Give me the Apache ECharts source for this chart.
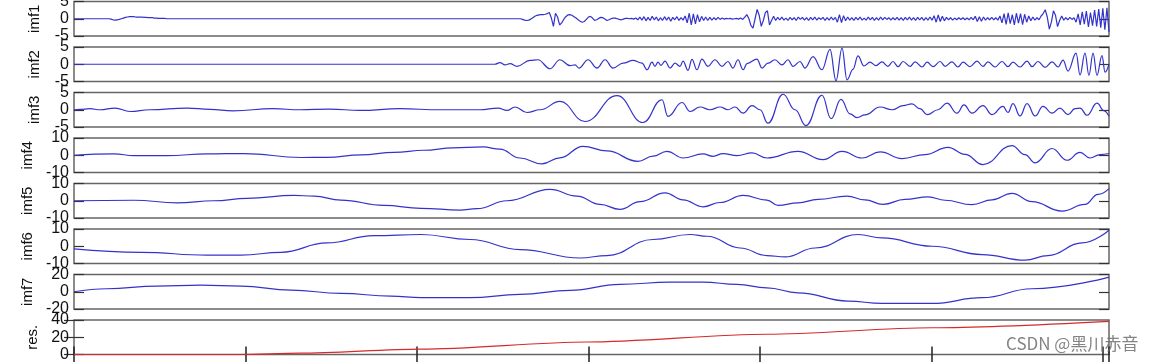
<!DOCTYPE html>
<html><head><meta charset="utf-8">
<script src="https://cdn.jsdelivr.net/npm/echarts@6/dist/echarts.min.js"></script>
<style>html,body{margin:0;padding:0;background:#fff}#c{width:1158px;height:362px}</style>
</head><body><div id="c"></div>
<script>
// ---------- data ----------
const X_MAX = 6036;
const X_TICK = 1000;
const panelNames = ['imf1','imf2','imf3','imf4','imf5','imf6','imf7','res.'];
const yMin  = [-5,-5,-5,-10,-10,-10,-20,0];
const yMax  = [5,5,5,10,10,10,20,40];
const yStep = [5,5,5,10,10,10,20,20];

// imf1 sampled every imf1Step samples
const imf1Step = 12;
const imf1 = [
0,0,0,0,0,0,0,0,0,0,0,0,0,0,0,0,0,
0,-0.1,-0.3,-0.4,-0.3,-0.2,0,0.2,0.4,0.5,0.6,0.6,0.6,0.5,0.5,0.5,0.5,0.4,0.4,0.3,0.3,0.3,0.2,0.2,0.1,0.1,0.1,0.1,0,0,0,0,
0,0,0,0,0,0,0,0,0,0,0,0,0,0,0,0,0,0,0,0,0,
0,0,0,0,0,0,0,0,0,0,0,0,0,0,0,0,0,0,0,0,0,
0,0,0,0,0,0,0,0,0,0,0,0,0,0,0,0,0,0,0,0,0,
0,0,0,0,0,0,0,0,0,0,0,0,0,0,0,0,0,0,0,0,0,
0,0,0,0,0,0,0,0,0,0,0,0,0,0,0,0,0,0,0,0,0,
0,0,0,0,0,0,0,0,0,0,0,0,0,0,0,0,0,0,0,0,0,
0,0,0,0,0,0,0,0,0,0,0,0,0,0,0,0,0,0,0,0,0,
0,0,0,0,0,0,0,0,0,0,0,0,0,0,0,0,0,0,0,0,0,
0,-0.2,-0.4,-0.5,-0.4,-0.1,0.3,0.7,1.0,1.1,
1.2,1.2,1.3,1.5,1.8,0.2,-2.2,1.6,0.5,-1.8,
-1.2,-0.2,0.6,1.1,1.2,1.0,0.6,0.2,-0.3,-0.7,
-1.0,-0.8,-0.2,0.5,0.7,0.2,-0.5,-0.3,0.1,0.4,
0.3,-0.1,-0.5,-0.3,0.0,0.2,0.2,0.0,-0.2,-0.3,
-0.1,0.1,0.1,0.0,0.1,-0.1,0.2,-0.3,
0.5,-0.4,0.6,-0.6,0.4,-0.5,0.7,-0.3,0.5,-0.6,0.3,-0.5,0.6,-0.4,0.5,-0.7,0.4,-0.3,0.6,-0.5,0.3,-0.4,
0.8,-1.2,1.6,-1.8,1.4,-1.5,1.2,-0.9,0.7,-0.5,
0.5,-0.5,0.4,-0.4,0.3,-0.3,0.4,-0.2,0.2,-0.1,0.1,0.0,0.1,-0.1,0.0,0.1,-0.1,0.2,-0.2,
0.5,1.2,0.0,-2.0,-2.7,0.0,2.7,1.0,-2.2,-0.5,1.8,2.3,-1.8,-0.5,0.7,
-0.5,0.4,-0.3,0.5,-0.4,0.2,-0.5,0.4,-0.3,0.3,-0.5,0.5,-0.2,0.4,-0.4,0.3,-0.5,0.4,-0.3,0.5,-0.4,0.3,-0.2,0.4,-0.5,0.3,-0.4,0.5,-0.3,0.4,
-1.0,1.2,-1.1,0.9,-0.6,0.5,
-0.4,0.3,-0.5,0.4,-0.3,0.5,-0.4,0.2,-0.4,0.5,-0.3,0.4,-0.5,0.3,-0.4,0.5,-0.3,0.4,-0.2,0.3,-0.4,0.3,-0.3,0.4,
-0.4,0.3,-0.5,0.4,-0.3,0.5,-0.4,0.3,-0.5,0.4,-0.3,0.4,-0.5,0.3,-0.4,0.5,-0.4,
0.9,-1.0,1.1,-0.8,0.7,-0.6,
0.4,-0.3,0.3,-0.4,0.2,-0.3,0.3,-0.2,0.3,-0.3,0.2,-0.3,0.4,-0.3,
0.7,-0.8,0.6,-0.7,0.5,-0.4,
0.3,-0.3,0.4,-0.3,0.3,-0.4,
0.8,-1.2,1.5,-1.6,1.7,-1.4,1.2,-1.8,1.6,-1.3,1.5,-1.7,1.3,-1.0,0.8,-0.6,0.5,-0.4,0.3,
-0.3,0.8,1.5,2.6,0.5,-3.0,-1.0,2.3,1.0,-2.3,-0.5,0.8,-0.4,
0.3,-0.3,0.4,-0.2,0.3,
-1.0,1.4,-1.8,2.0,-1.6,2.2,-2.4,1.8,-2.0,2.5,-2.2,2.8,-2.6,3.0,-3.2,3.2,-3.8
];

// [sample, value]
const imf2 = [[0,0],[2368,0],[2455,0],[2484,0.5],[2514,-0.2],[2543,0.2],[2584,-0.6],[2659,1.1],[2706,1.3],[2776,-1.3],[2834,1.3],[2893,-0.4],[2922,-0.2],[2945,-1.1],[2998,1.3],[3050,-1.1],[3097,1.3],[3143,-1.1],[3202,0.3],[3260,1.1],[3313,0.3],[3342,-1.6],[3371,0.6],[3388,-0.6],[3406,0.6],[3423,-0.3],[3447,0.9],[3476,-1.1],[3505,0.3],[3534,-0.6],[3552,0.9],[3581,-1.8],[3604,1.4],[3633,-1.6],[3662,1.5],[3697,-0.6],[3738,1.3],[3779,-0.6],[3814,0.8],[3843,-1.1],[3872,1.3],[3902,-1.6],[3925,0.2],[3983,1.5],[4012,-1.1],[4047,0.3],[4088,1.3],[4129,-0.2],[4164,1.3],[4193,-0.6],[4234,0.8],[4263,-1.1],[4310,2.2],[4362,-1.6],[4409,4.3],[4444,-4.8],[4479,4.7],[4508,-4.5],[4543,-1.5],[4572,2.4],[4607,-0.5],[4642,0.6],[4677,-0.4],[4712,0.7],[4747,-0.6],[4776,0.8],[4806,-0.7],[4835,0.8],[4876,-0.6],[4905,0.7],[4946,-0.8],[4975,0.6],[5010,-0.7],[5051,0.8],[5080,-0.6],[5120,0.7],[5155,-0.8],[5185,0.6],[5225,-0.7],[5266,0.9],[5301,-0.6],[5330,0.7],[5371,-0.8],[5412,0.8],[5447,-0.7],[5476,0.6],[5517,-0.8],[5558,0.9],[5587,-0.7],[5622,0.8],[5663,-0.9],[5704,0.7],[5739,-0.8],[5768,1.2],[5797,-2.0],[5844,3.2],[5867,-3.1],[5896,3.2],[5919,-3.2],[5943,3.2],[5966,-3.2],[5995,2.5],[6013,-2.3],[6036,0]];

const imf3 = [[0,0],[35,0.1],[93,0.3],[152,0],[239,0.5],[327,-0.5],[443,0],[659,0.5],[793,0.1],[927,-0.3],[1161,0.3],[1318,0],[1493,0.2],[1668,-0.2],[1901,0.3],[2135,0],[2368,0],[2473,0.5],[2525,-0.2],[2572,0.8],[2642,-0.8],[2718,0],[2834,2.4],[2980,-3.4],[3167,4.1],[3318,-3.7],[3429,2.9],[3464,-1.9],[3546,2.1],[3593,-0.5],[3651,0.8],[3709,0],[3768,0.8],[3814,0],[3855,0.8],[3902,-1.0],[3954,1.2],[4001,0],[4047,-3.9],[4135,4.5],[4205,0],[4269,-4.6],[4362,4.2],[4415,-2.6],[4473,3.0],[4526,-1.2],[4566,-2.3],[4613,-1.5],[4701,0.8],[4771,0],[4835,1.2],[4887,1.7],[4934,0.3],[4975,-1.4],[5039,0],[5091,1.9],[5150,-1.0],[5190,1.4],[5237,-1.0],[5301,1.2],[5354,-1.4],[5418,1.0],[5447,-0.8],[5476,1.8],[5517,-1.8],[5558,1.8],[5605,-1.8],[5651,1.0],[5704,-1.0],[5750,0.5],[5797,-1.4],[5838,0.3],[5867,0.5],[5908,-1.6],[5966,1.9],[6007,-0.3],[6036,-1.9]];

const imf4 = [[0,0],[233,0.8],[350,-0.2],[542,-0.2],[776,0.8],[991,1.0],[1324,-1.3],[1475,-1.2],[1674,0.2],[1866,1.7],[2041,2.9],[2210,4.3],[2385,4.8],[2484,3.5],[2601,-1.6],[2729,-5.0],[2834,-1.5],[2968,5.2],[3108,2.5],[3289,-3.5],[3377,-0.5],[3458,2.3],[3552,-1.6],[3668,0.8],[3727,-0.6],[3785,1.0],[3867,-0.2],[3954,1.4],[4041,-1.6],[4222,2.3],[4368,-2.5],[4479,2.3],[4596,-1.6],[4701,1.9],[4829,-1.9],[4963,0.4],[5097,4.6],[5196,0.5],[5301,-5.4],[5470,5.6],[5546,0.4],[5605,-4.4],[5704,3.9],[5791,-2.9],[5867,1.7],[5925,-1.6],[5984,0.4],[6036,1.0]];

const imf5 = [[0,0],[350,0.3],[601,-1.2],[816,0],[1009,1.4],[1283,3.1],[1400,2.7],[1557,0.4],[1808,-2.7],[2024,-4.4],[2251,-5.4],[2350,-4.6],[2525,0],[2776,6.6],[2933,2.7],[3068,-2.1],[3184,-5.0],[3301,-0.5],[3447,4.6],[3552,0.5],[3668,-3.5],[3768,-1.0],[3902,3.1],[4041,0.4],[4106,-2.7],[4222,-1.2],[4339,0.8],[4508,2.7],[4613,0.5],[4718,-2.1],[4846,0.8],[4981,2.3],[5080,0.3],[5237,-2.3],[5354,0.5],[5470,4.3],[5587,-0.5],[5762,-6.0],[5896,-2.1],[5972,3.7],[6036,7.0]];

const imf6 = [[0,-1.5],[391,-3.5],[776,-5.2],[974,-5.2],[1207,-3.5],[1475,1.9],[1750,6.2],[2024,6.8],[2309,3.9],[2601,-1.9],[2951,-6.8],[3108,-5.4],[3377,3.9],[3593,6.8],[3692,5.8],[3884,-1.0],[4041,-5.4],[4147,-6.2],[4322,-1.0],[4572,6.8],[4712,4.8],[5004,0],[5296,-4.8],[5546,-8.1],[5680,-5.4],[5879,1.9],[6036,9.3]];

const imf7 = [[0,0],[192,3.5],[484,6.6],[741,7.7],[974,6.6],[1266,1.9],[1557,-1.9],[1849,-5.0],[2024,-6.9],[2309,-6.9],[2601,-3.1],[2893,1.5],[3184,8.5],[3476,11.2],[3668,11.2],[3867,8.5],[4041,4.6],[4222,-1.2],[4514,-10.8],[4712,-13.5],[5004,-13.5],[5296,-6.9],[5587,3.5],[6036,17.0]];

const res = [[0,0],[968,0],[1318,1.5],[2024,6.3],[2992,14.5],[4041,23.5],[5004,31],[6036,38.5]];

const watermark = 'CSDN @黑川赤音';

// ---------- chart ----------
const seriesData = [imf1.map((v,k)=>[k*imf1Step, v]), imf2, imf3, imf4, imf5, imf6, imf7, res];
const smoothness = [false, 0.4, 0.45, 0.45, 0.45, 0.45, 0.45, 0.3];
const N = panelNames.length;
const FONT = 'Liberation Sans, Arial, sans-serif';
const grids = [], xAxes = [], yAxes = [], series = [];
for (let i = 0; i < N; i++) {
  grids.push({left: 74, width: 1035, top: 1.5 + 45.5 * i, height: 34.5,
    containLabel: false, outerBoundsMode: 'none',
    show: true, borderColor: '#666', borderWidth: 1.5, backgroundColor: '#fff'});
  const isRes = i === N - 1;
  xAxes.push({type: 'value', gridIndex: i, min: 0, max: X_MAX, interval: X_TICK,
    axisLine: {show: false}, splitLine: {show: false},
    axisTick: {show: isRes, inside: true, length: 8, lineStyle: {color: '#222', width: 1.5}},
    axisLabel: {show: false}});
}
for (let i = 0; i < N; i++) {
  yAxes.push({type: 'value', gridIndex: i, min: yMin[i], max: yMax[i], interval: yStep[i],
    position: 'left', axisLine: {show: false}, splitLine: {show: false},
    axisTick: {show: true, inside: true, length: 10, lineStyle: {color: '#333', width: 1.2}},
    axisLabel: {fontSize: 16, color: '#111', margin: 5, fontFamily: FONT,
      showMinLabel: true, showMaxLabel: true, hideOverlap: false},
    name: panelNames[i], nameLocation: 'middle', nameGap: 32, nameRotate: 90,
    nameTextStyle: {fontSize: 15, color: '#111', fontFamily: FONT}});
}
for (let i = 0; i < N; i++) {
  yAxes.push({type: 'value', gridIndex: i, min: yMin[i], max: yMax[i], interval: yStep[i],
    position: 'right', axisLine: {show: false}, splitLine: {show: false},
    axisTick: {show: true, inside: true, length: 10, lineStyle: {color: '#333', width: 1.2}},
    axisLabel: {show: false}});
}
// top ticks of the residual panel
xAxes.push({type: 'value', gridIndex: N - 1, position: 'top', min: 0, max: X_MAX, interval: X_TICK,
  axisLine: {show: false}, splitLine: {show: false}, axisLabel: {show: false},
  axisTick: {show: true, inside: true, length: 8, lineStyle: {color: '#222', width: 1.5}}});

for (let i = 0; i < N; i++) {
  const isRes = i === N - 1;
  series.push({type: 'line', xAxisIndex: i, yAxisIndex: i, data: seriesData[i],
    showSymbol: false, smooth: smoothness[i], smoothMonotone: 'x',
    lineStyle: {color: isRes ? '#d62a2a' : '#3333cc', width: 1.2},
    silent: true, z: 3});
}

const chart = echarts.init(document.getElementById('c'), null, {renderer: 'canvas'});
chart.setOption({
  animation: false,
  backgroundColor: '#fff',
  grid: grids, xAxis: xAxes, yAxis: yAxes, series: series,
  graphic: [{type: 'text', left: 1006, top: 335, z: 100,
    style: {text: watermark, fontSize: 17, fill: 'rgba(110,110,110,0.85)',
      fontFamily: 'Noto Sans CJK SC, sans-serif'}}]
});
</script></body></html>
